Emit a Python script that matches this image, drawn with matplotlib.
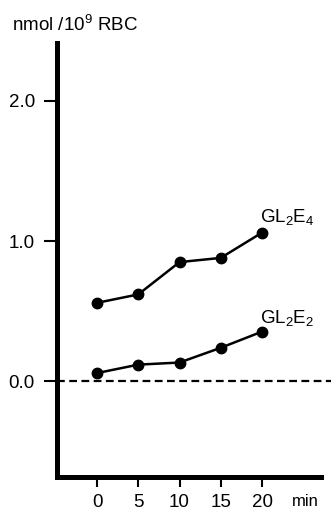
import matplotlib

matplotlib.use("Agg")
import matplotlib.pyplot as plt

plt.rcParams["font.family"] = ["Liberation Sans", "DejaVu Sans"]
plt.rcParams["mathtext.fontset"] = "custom"
plt.rcParams["mathtext.rm"] = "Liberation Sans"
plt.rcParams["mathtext.it"] = "Liberation Sans"

# time points (min) and lipid levels (nmol / 10^9 RBC)
minutes = [0, 5, 10, 15, 20]
gl2e4 = [0.56, 0.62, 0.85, 0.88, 1.06]
gl2e2 = [0.06, 0.12, 0.135, 0.24, 0.355]
y_ticks = [0.0, 1.0, 2.0]
y_tick_labels = ["0.0", "1.0", "2.0"]

W, H = 331, 511
fig = plt.figure(figsize=(W / 100, H / 100), dpi=100)
ax = fig.add_axes([57 / W, 1 - 477 / H, (321 - 57) / W, (477 - 43) / H])

ax.set_xlim(-4.85, 27.15)
ax.set_ylim(-0.68, 2.41)

ax.axhline(0, xmin=0, xmax=(331 - 57) / (321 - 57), color="black", lw=1.6,
           dashes=(3.5, 2.0), clip_on=False, zorder=1)

for series, label, ly in [(gl2e4, "GL$_2$E$_4$", 1.17), (gl2e2, "GL$_2$E$_2$", 0.455)]:
    ax.plot(minutes, series, color="black", lw=1.8, marker="o", ms=7.5, zorder=3)
    ax.text(19.75, ly, label, fontsize=13.5, va="center", ha="left")

for side in ("top", "right"):
    ax.spines[side].set_visible(False)
for side in ("left", "bottom"):
    ax.spines[side].set_linewidth(3.6)

ax.set_xticks(minutes)
ax.set_xticklabels([str(m) for m in minutes])
ax.set_yticks(y_ticks)
ax.set_yticklabels(y_tick_labels)
ax.tick_params(axis="y", length=9.5, width=1.5, pad=6.5, labelsize=13.5)
ax.tick_params(axis="x", length=7.5, width=1.5, pad=4.5, labelsize=13.5)

fig.text(292 / W, 1 - 494 / H, "min", fontsize=12, va="top", ha="left")
fig.text(12 / W, 1 - 31 / H, "nmol /10$^9$ RBC", fontsize=13.5, va="baseline", ha="left")

fig.savefig("out.png", dpi=100)
